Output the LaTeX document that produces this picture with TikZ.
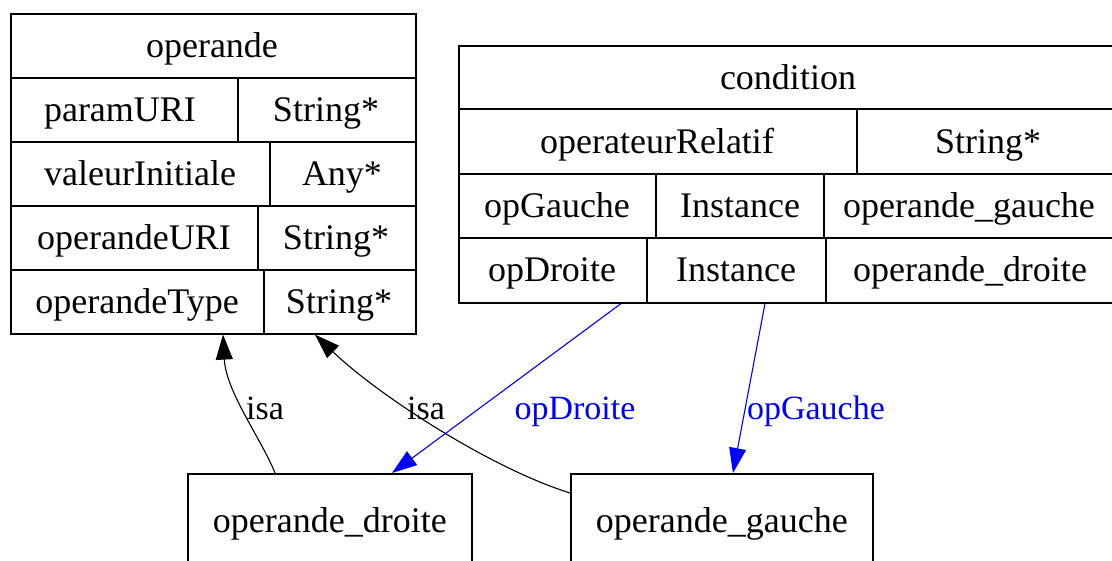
\documentclass[tikz,border=0pt]{standalone}
\usepackage{fontspec}
\setmainfont{Liberation Serif}
\usetikzlibrary{arrows.meta}
\begin{document}
\begin{tikzpicture}[x=1pt,y=-1pt,
  tbl/.style={draw=black, line width=1.6pt, inner sep=0pt, anchor=north west},
  cell/.style={inner sep=0pt, text height=25pt, text depth=8pt, yshift=-3pt, font=\fontsize{36}{40}\selectfont},
  sep/.style={draw=black, line width=1.4pt},
  boxnode/.style={draw=black, line width=1.6pt, inner sep=0pt, anchor=north west, font=\fontsize{36}{40}\selectfont},
  isa/.style={draw=black, line width=1.1pt, -{Triangle[length=25pt,width=17pt]}},
  rel/.style={draw=blue, line width=1.1pt, -{Triangle[length=25pt,width=17pt]}},
  lbl/.style={inner sep=0pt, text height=25pt, text depth=8pt, yshift=-3pt, font=\fontsize{34}{40}\selectfont},
]
\useasboundingbox (0,0) rectangle (1112,561);
\clip (0,0) rectangle (1112,561);

% ---------- operande table ----------
\node[tbl, minimum width=405pt, minimum height=320pt] (operande) at (10,13) {};
\draw[sep] (10,78) -- (415,78);
\draw[sep] (10,142) -- (415,142);
\draw[sep] (10,206) -- (415,206);
\draw[sep] (10,270) -- (415,270);
\draw[sep] (238,78) -- (238,142);
\draw[sep] (270,142) -- (270,206);
\draw[sep] (258,206) -- (258,270);
\draw[sep] (264,270) -- (264,333);
\node[cell] (opT) at (212,46) {operande};
\node[cell] (opA1) at (120,110) {paramURI};
\node[cell] (opB1) at (326,110) {String*};
\node[cell] (opA2) at (140,174) {valeurInitiale};
\node[cell] (opB2) at (342,174) {Any*};
\node[cell] (opA3) at (134,238) {operandeURI};
\node[cell] (opB3) at (336,238) {String*};
\node[cell] (opA4) at (137,302) {operandeType};
\node[cell] (opB4) at (339,302) {String*};

% ---------- condition table ----------
\node[tbl, minimum width=656pt, minimum height=257pt] (condition) at (458,45) {};
\draw[sep] (458,109) -- (1114,109);
\draw[sep] (458,174) -- (1114,174);
\draw[sep] (458,238) -- (1114,238);
\draw[sep] (857,109) -- (857,174);
\draw[sep] (656,174) -- (656,238);
\draw[sep] (824,174) -- (824,238);
\draw[sep] (647,238) -- (647,302);
\draw[sep] (826,238) -- (826,302);
\node[cell] (cT) at (788,78) {condition};
\node[cell] (cA1) at (657,142) {operateurRelatif};
\node[cell] (cB1) at (988,142) {String*};
\node[cell] (cA2) at (557,206) {opGauche};
\node[cell] (cB2) at (740,206) {Instance};
\node[cell] (cC2) at (969,206) {operande\_gauche};
\node[cell] (cA3) at (552,270) {opDroite};
\node[cell] (cB3) at (736,270) {Instance};
\node[cell] (cC3) at (970,270) {operande\_droite};

% ---------- instance boxes ----------
\node[boxnode, minimum width=284pt, minimum height=100pt] (droite) at (187,473) {operande\_droite};
\node[boxnode, minimum width=302pt, minimum height=100pt] (gauche) at (570,473) {operande\_gauche};

% ---------- connectors ----------
\draw[isa] ([xshift=88pt]droite.north west) .. controls (262,440) and (226,392) .. ([xshift=213pt]operande.south west);
\draw[isa] ([yshift=-20pt]gauche.north west) .. controls (490,468) and (378,395) .. ([xshift=305pt]operande.south west);
\draw[rel] ([xshift=163pt]condition.south west) -- ([xshift=205pt]droite.north west);
\draw[rel] ([xshift=307pt]condition.south west) -- ([xshift=163pt]gauche.north west);

\node[lbl] (l1) at (265,408) {isa};
\node[lbl] (l2) at (426,408) {isa};
\node[lbl, text=blue] (l3) at (575,408) {opDroite};
\node[lbl, text=blue] (l4) at (816,408) {opGauche};
\end{tikzpicture}
\end{document}
